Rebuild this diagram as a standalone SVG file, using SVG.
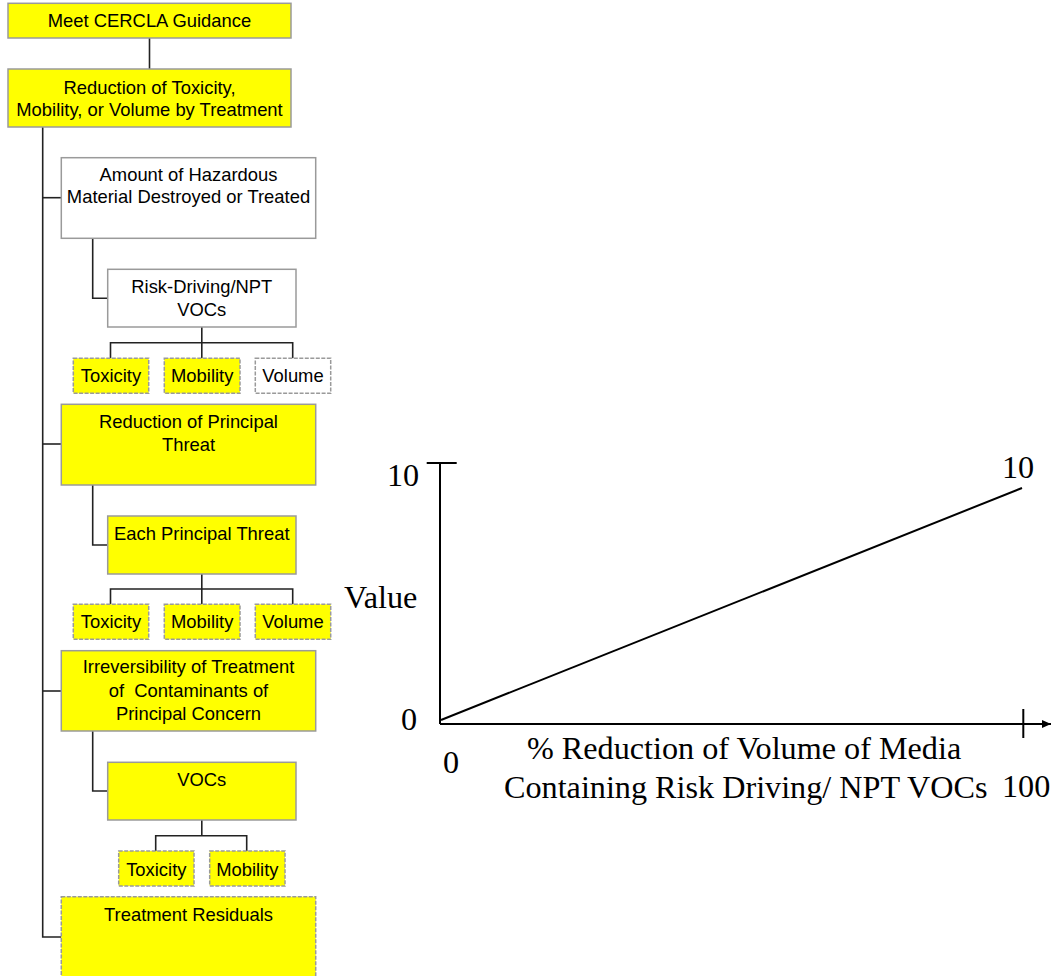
<svg xmlns="http://www.w3.org/2000/svg" width="1057" height="976" viewBox="0 0 1057 976">
  <style>
    .box { stroke: #9a9a9a; stroke-width: 1.5; }
    .yel { fill: #ffff00; }
    .wht { fill: #ffffff; }
    .dash { stroke-dasharray: 4 1.5; }
    .lbl { font-family: "Liberation Sans", Arial, sans-serif; font-size: 18.4px; fill: #000; text-anchor: middle; }
    .wire { fill: none; stroke: #222; stroke-width: 1.6; }
    .axis { fill: none; stroke: #000; stroke-width: 2; }
    .chart { font-family: "Liberation Serif", "Times New Roman", serif; font-size: 32.2px; fill: #000; }
  </style>
  <defs>
    <marker id="arrow" markerWidth="10" markerHeight="10" refX="9" refY="5" orient="auto" markerUnits="userSpaceOnUse">
      <path d="M0,1 L9,5 L0,9 Z" fill="#000"/>
    </marker>
  </defs>
  <rect width="1057" height="976" fill="#fff"/>

  <!-- tree connectors -->
  <g id="connectors">
    <line class="wire" x1="149.5" y1="38" x2="149.5" y2="69"/>
    <polyline class="wire" points="42.7,127 42.7,937 61.3,937"/>
    <line class="wire" x1="42.7" y1="197.7" x2="61.3" y2="197.7"/>
    <line class="wire" x1="42.7" y1="444" x2="61.3" y2="444"/>
    <line class="wire" x1="42.7" y1="691" x2="61.3" y2="691"/>
    <polyline class="wire" points="92.7,238.3 92.7,298.3 107.7,298.3"/>
    <polyline class="wire" points="92.7,485 92.7,545 107.7,545"/>
    <polyline class="wire" points="92.7,731 92.7,791 107.7,791"/>
    <!-- leaf buses -->
    <line class="wire" x1="201.8" y1="327" x2="201.8" y2="358.3"/>
    <polyline class="wire" points="110.5,358.3 110.5,342.7 292.7,342.7 292.7,358.3"/>
    <line class="wire" x1="201.8" y1="574" x2="201.8" y2="604.3"/>
    <polyline class="wire" points="110.5,604.3 110.5,589 292.7,589 292.7,604.3"/>
    <line class="wire" x1="201.8" y1="820" x2="201.8" y2="835.7"/>
    <polyline class="wire" points="155.7,851 155.7,835.7 246.7,835.7 246.7,851"/>
  </g>

  <g id="n-cercla">
    <rect class="box yel" x="8" y="3.3" width="283" height="34.7"/>
    <text class="lbl" x="149.5" y="27">Meet CERCLA Guidance</text>
  </g>
  <g id="n-tmv">
    <rect class="box yel" x="8" y="69" width="283" height="58"/>
    <text class="lbl" x="149.5" y="94">Reduction of Toxicity,</text>
    <text class="lbl" x="149.5" y="116">Mobility, or Volume by Treatment</text>
  </g>

  <g id="n-amount">
    <rect class="box wht" x="61.3" y="157.7" width="254.4" height="80.6"/>
    <text class="lbl" x="188.5" y="180.7">Amount of Hazardous</text>
    <text class="lbl" x="188.5" y="203.3">Material Destroyed or Treated</text>
  </g>
  <g id="n-risk">
    <rect class="box wht" x="107.7" y="269.3" width="188.3" height="57.7"/>
    <text class="lbl" x="201.8" y="292.7">Risk-Driving/NPT</text>
    <text class="lbl" x="201.8" y="315.7">VOCs</text>
  </g>
  <g id="n-risk-tox">
    <rect class="box yel dash" x="73.3" y="358.3" width="75.4" height="35"/>
    <text class="lbl" x="111" y="382.3">Toxicity</text>
  </g>
  <g id="n-risk-mob">
    <rect class="box yel dash" x="164.3" y="358.3" width="75.7" height="35"/>
    <text class="lbl" x="202.2" y="382.3">Mobility</text>
  </g>
  <g id="n-risk-vol">
    <rect class="box wht dash" x="255.3" y="358.3" width="75.4" height="35"/>
    <text class="lbl" x="293" y="382.3">Volume</text>
  </g>

  <g id="n-principal">
    <rect class="box yel" x="61.3" y="404.3" width="254.4" height="80.7"/>
    <text class="lbl" x="188.5" y="428.3">Reduction of Principal</text>
    <text class="lbl" x="188.5" y="451">Threat</text>
  </g>
  <g id="n-each">
    <rect class="box yel" x="107.7" y="516" width="188.3" height="58"/>
    <text class="lbl" x="201.8" y="540">Each Principal Threat</text>
  </g>
  <g id="n-each-tox">
    <rect class="box yel dash" x="73.3" y="604.3" width="75.4" height="35"/>
    <text class="lbl" x="111" y="628.3">Toxicity</text>
  </g>
  <g id="n-each-mob">
    <rect class="box yel dash" x="164.3" y="604.3" width="75.7" height="35"/>
    <text class="lbl" x="202.2" y="628.3">Mobility</text>
  </g>
  <g id="n-each-vol">
    <rect class="box yel dash" x="255.3" y="604.3" width="75.4" height="35"/>
    <text class="lbl" x="293" y="628.3">Volume</text>
  </g>

  <g id="n-irrev">
    <rect class="box yel" x="61.3" y="650.7" width="254.4" height="80.3"/>
    <text class="lbl" x="188.5" y="673.3">Irreversibility of Treatment</text>
    <text class="lbl" x="188.5" y="696.7" xml:space="preserve">of  Contaminants of</text>
    <text class="lbl" x="188.5" y="720">Principal Concern</text>
  </g>
  <g id="n-vocs">
    <rect class="box yel" x="107.7" y="762.3" width="188.3" height="57.7"/>
    <text class="lbl" x="201.8" y="785.7">VOCs</text>
  </g>
  <g id="n-vocs-tox">
    <rect class="box yel dash" x="118.7" y="851" width="75.3" height="35"/>
    <text class="lbl" x="156.3" y="875.7">Toxicity</text>
  </g>
  <g id="n-vocs-mob">
    <rect class="box yel dash" x="209.7" y="851" width="75.3" height="35"/>
    <text class="lbl" x="247.3" y="875.7">Mobility</text>
  </g>

  <g id="n-residuals">
    <rect class="box yel dash" x="61.3" y="896.7" width="254.4" height="90"/>
    <text class="lbl" x="188.5" y="921">Treatment Residuals</text>
  </g>

  <!-- value function chart -->
  <g id="chart">
    <line class="axis" x1="440" y1="462" x2="440" y2="724"/>
    <line class="axis" x1="426.7" y1="463" x2="456.7" y2="463"/>
    <line class="axis" x1="440" y1="724" x2="1051" y2="724" marker-end="url(#arrow)"/>
    <line class="axis" x1="1023.3" y1="709" x2="1023.3" y2="738"/>
    <line class="axis" x1="441" y1="720" x2="1022" y2="488"/>
    <text class="chart" x="387" y="486">10</text>
    <text class="chart" x="1002" y="478.3">10</text>
    <text class="chart" x="344" y="608">Value</text>
    <text class="chart" x="401" y="730">0</text>
    <text class="chart" x="443" y="773">0</text>
    <text class="chart" x="1002" y="797">100</text>
    <text class="chart" x="527" y="759">% Reduction of Volume of Media</text>
    <text class="chart" x="504" y="797.5">Containing Risk Driving/ NPT VOCs</text>
  </g>
</svg>
